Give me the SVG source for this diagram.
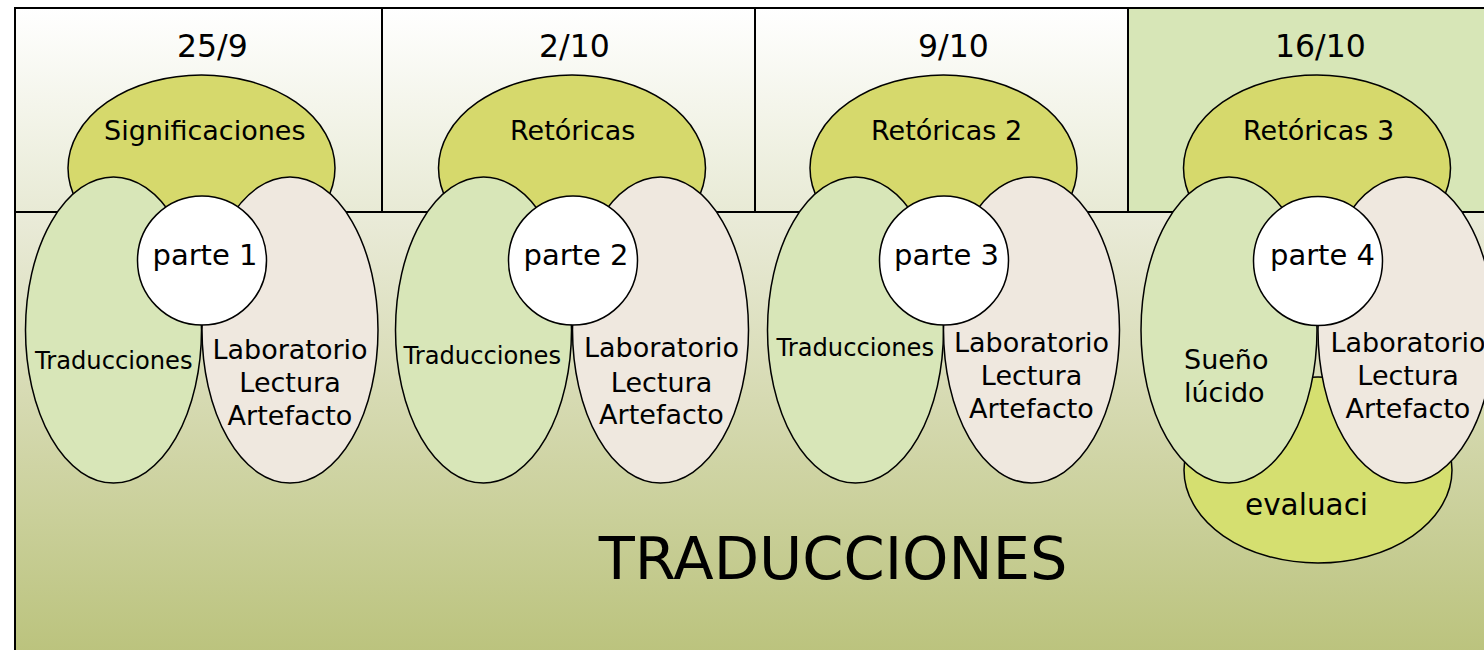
<svg xmlns="http://www.w3.org/2000/svg" width="1484" height="650" viewBox="0 0 1484 650">
  <defs>
    <linearGradient id="hdr" x1="0" y1="0" x2="0" y2="1">
      <stop offset="0" stop-color="#ffffff"/>
      <stop offset="1" stop-color="#e8ead5"/>
    </linearGradient>
    <linearGradient id="body" x1="0" y1="0" x2="0" y2="1">
      <stop offset="0" stop-color="#eaebd9"/>
      <stop offset="1" stop-color="#bbc37d"/>
    </linearGradient>
  </defs>
  <style>
    .t { font-family: "DejaVu Sans", "Liberation Sans", sans-serif; fill: #000; }
    .date { font-size: 31.5px; }
    .top { font-size: 27px; }
    .parte { font-size: 29px; }
    .trad { font-size: 24.2px; }
    .lab { font-size: 27px; text-anchor: middle; }
    .suen { font-size: 27px; }
    .eval { font-size: 29.5px; }
    .big { font-size: 59px; text-anchor: middle; }
    .ln { stroke: #000; stroke-width: 2; fill: none; }
    .e { stroke: #000; stroke-width: 1.5; }
    .topE { fill: #d6d96c; }
    .evalE { fill: #d5df70; }
    .leftE { fill: #d8e6b8; }
    .rightE { fill: #efe8df; }
    .circ { fill: #ffffff; }
  </style>

  <g id="frame">
    <rect x="15" y="8" width="367" height="204" fill="url(#hdr)"/>
    <rect x="382" y="8" width="373" height="204" fill="url(#hdr)"/>
    <rect x="755" y="8" width="373" height="204" fill="url(#hdr)"/>
    <rect x="1128" y="8" width="360" height="204" fill="#d7e6b7"/>
    <rect x="15" y="212" width="1473" height="442" fill="url(#body)"/>
    <rect x="15" y="8" width="1480" height="660" class="ln"/>
    <line x1="15" y1="212" x2="1488" y2="212" class="ln"/>
    <line x1="382" y1="8" x2="382" y2="212" class="ln"/>
    <line x1="755" y1="8" x2="755" y2="212" class="ln"/>
    <line x1="1128" y1="8" x2="1128" y2="212" class="ln"/>
    <text class="t date" x="177" y="57">25/9</text>
    <text class="t date" x="539" y="57">2/10</text>
    <text class="t date" x="918" y="57">9/10</text>
    <text class="t date" x="1275" y="57">16/10</text>
    <text class="t big" x="833" y="579">TRADUCCIONES</text>
  </g>

  <g id="connectors"></g>

  <g id="cluster1">
    <ellipse class="e topE" cx="201.5" cy="168" rx="133.5" ry="93"/>
    <ellipse class="e leftE" cx="113.5" cy="330" rx="88" ry="153"/>
    <ellipse class="e rightE" cx="290" cy="330" rx="88" ry="153"/>
    <circle class="e circ" cx="202" cy="260.5" r="64.5"/>
    <text class="t top" x="104" y="140">Significaciones</text>
    <text class="t parte" x="152.5" y="265">parte 1</text>
    <text class="t trad" x="35" y="369">Traducciones</text>
    <text class="t lab" x="290" y="359">Laboratorio</text>
    <text class="t lab" x="290" y="392">Lectura</text>
    <text class="t lab" x="290" y="425">Artefacto</text>
  </g>

  <g id="cluster2">
    <ellipse class="e topE" cx="572" cy="168" rx="133.5" ry="93"/>
    <ellipse class="e leftE" cx="483.5" cy="330" rx="88" ry="153"/>
    <ellipse class="e rightE" cx="660.5" cy="330" rx="88" ry="153"/>
    <circle class="e circ" cx="573" cy="260.5" r="64.5"/>
    <text class="t top" x="510" y="140">Retóricas</text>
    <text class="t parte" x="523.5" y="265">parte 2</text>
    <text class="t trad" x="403.5" y="364">Traducciones</text>
    <text class="t lab" x="661.5" y="357">Laboratorio</text>
    <text class="t lab" x="661.5" y="391.5">Lectura</text>
    <text class="t lab" x="661.5" y="424">Artefacto</text>
  </g>

  <g id="cluster3">
    <ellipse class="e topE" cx="943.5" cy="168" rx="133.5" ry="93"/>
    <ellipse class="e leftE" cx="855.5" cy="330" rx="88" ry="153"/>
    <ellipse class="e rightE" cx="1031.5" cy="330" rx="88" ry="153"/>
    <circle class="e circ" cx="944" cy="260.5" r="64.5"/>
    <text class="t top" x="871" y="140">Retóricas 2</text>
    <text class="t parte" x="894" y="265">parte 3</text>
    <text class="t trad" x="776.5" y="356">Traducciones</text>
    <text class="t lab" x="1031.5" y="351.5">Laboratorio</text>
    <text class="t lab" x="1031.5" y="384.5">Lectura</text>
    <text class="t lab" x="1031.5" y="418">Artefacto</text>
  </g>

  <g id="cluster4">
    <ellipse class="e topE" cx="1317" cy="168" rx="133.5" ry="93"/>
    <ellipse class="e evalE" cx="1318" cy="470" rx="134" ry="93"/>
    <ellipse class="e leftE" cx="1229" cy="330" rx="88" ry="153"/>
    <ellipse class="e rightE" cx="1406" cy="330" rx="88" ry="153"/>
    <circle class="e circ" cx="1318" cy="261" r="64.5"/>
    <text class="t top" x="1243" y="140">Retóricas 3</text>
    <text class="t parte" x="1270" y="265">parte 4</text>
    <text class="t suen" x="1184" y="369">Sueño</text>
    <text class="t suen" x="1184" y="401.5">lúcido</text>
    <text class="t lab" x="1408" y="351.5">Laboratorio</text>
    <text class="t lab" x="1408" y="385">Lectura</text>
    <text class="t lab" x="1408" y="418">Artefacto</text>
    <text class="t eval" x="1245" y="515">evaluaci</text>
  </g>
</svg>
